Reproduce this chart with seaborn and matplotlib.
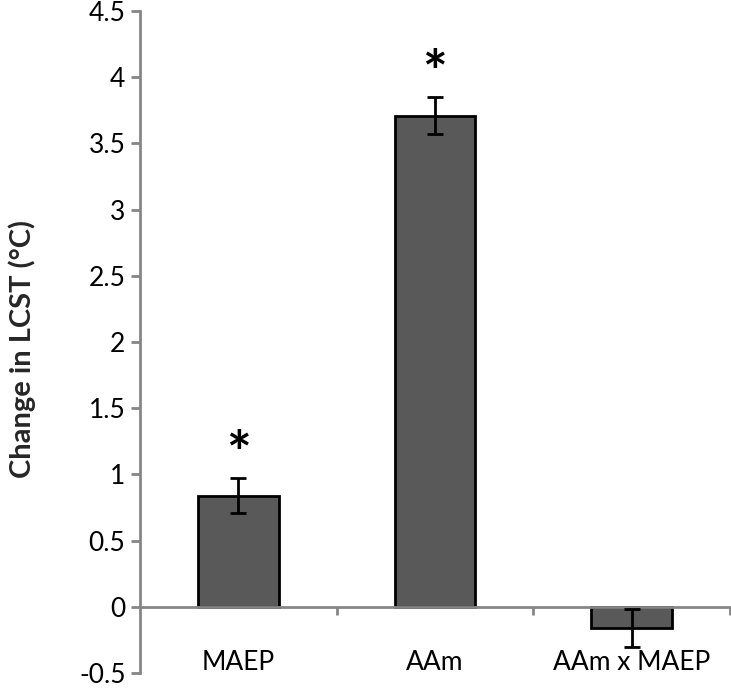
import matplotlib
matplotlib.use("Agg")
import matplotlib.pyplot as plt
import seaborn as sns
import pandas as pd
import numpy as np

categories = ["MAEP", "AAm", "AAm x MAEP"]
values = [0.84, 3.71, -0.16]
errors = [0.135, 0.14, 0.14]
significant = [True, True, False]

sns.set_theme(style="white")
plt.rcParams['font.family'] = ['Lato', 'DejaVu Sans']

fig = plt.figure(figsize=(7.31, 6.88), dpi=100)
top_px, bot_px = 11, 673
ax = fig.add_axes([0.1915, 1 - bot_px / 688, 0.807, (bot_px - top_px) / 688])

df = pd.DataFrame({"cat": categories, "val": values})
sns.barplot(data=df, x="cat", y="val", color="#595959", saturation=1,
            width=0.41, edgecolor="black", linewidth=2, errorbar=None, ax=ax)

x = np.arange(len(categories))
ax.errorbar(x, values, yerr=errors, fmt="none", ecolor="black",
            elinewidth=2, capsize=6, capthick=2, zorder=5)

for xi, v, e, s in zip(x, values, errors, significant):
    if s:
        ax.text(xi, v + e - 0.04, "*", ha="center", va="bottom",
                fontsize=42, fontweight="bold", color="black")

ax.set_ylim(-0.5, 4.5)
ax.set_xlim(-0.5, 2.5)
ax.set_yticks(np.arange(-0.5, 4.51, 0.5))
ax.set_yticklabels([("%g" % t) for t in np.arange(-0.5, 4.51, 0.5)])

gray = "#868686"
for sp in ["top", "right"]:
    ax.spines[sp].set_visible(False)
ax.spines["left"].set_color(gray)
ax.spines["left"].set_linewidth(2)
ax.spines["bottom"].set_position(("data", 0))
ax.spines["bottom"].set_color(gray)
ax.spines["bottom"].set_linewidth(2)

ax.tick_params(axis="y", which="major", direction="out", length=6.5,
               width=2, color=gray, labelsize=19, pad=4, left=True)
ax.set_xticks(x)
ax.set_xticklabels(categories)
ax.tick_params(axis="x", which="major", length=0, labelsize=19, pad=31, bottom=True)
ax.set_xticks([0.5, 1.5, 2.5], minor=True)
ax.tick_params(axis="x", which="minor", direction="out", length=6, width=2,
               color=gray, bottom=True)

ax.set_xlabel("")
ax.set_ylabel("Change in LCST (\u00b0C)", fontsize=21, fontweight="bold")
ax.yaxis.set_label_coords(-0.176, 0.49)
for lbl in ax.get_yticklabels() + ax.get_xticklabels():
    lbl.set_color("black")

fig.savefig("out.png", dpi=100)
